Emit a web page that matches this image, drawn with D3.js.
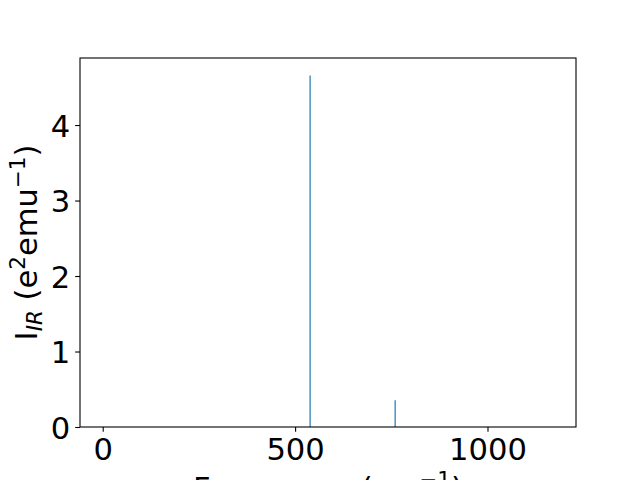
<!DOCTYPE html>
<html>
<head>
<meta charset="utf-8">
<script src="https://cdn.jsdelivr.net/npm/d3@7"></script>
<style>
  body { margin: 0; background: #fff; }
  svg { display: block; font-family: "DejaVu Sans", sans-serif; }
</style>
</head>
<body>
<div id="graphArea"></div>
<script>
// spectrum lines: frequency (cm^-1) and IR intensity
var frequencies = [539, 760]
var intensities = [4.655, 0.354]

// axis ticks
var xTicks = [0, 500, 1000]
var yTicks = [0, 1, 2, 3, 4]

// axis limits (matplotlib autoscale with 5% margin)
var xDomain = [-59, 1230]
var yDomain = [0, 4.888]

var width = 640
var height = 480
var margin = {top: 58, right: 64, bottom: 53, left: 80}
var fontSize = 30.6
var smallSize = 21.4

var svg = d3.select("#graphArea")
	.append("svg")
	.attr("width", width)
	.attr("height", height)

var x = d3.scaleLinear()
	.domain(xDomain)
	.range([margin.left, width - margin.right])

var y = d3.scaleLinear()
	.domain(yDomain)
	.range([height - margin.bottom, margin.top])

var dat = frequencies.map(function(f, i) {
	return {freq: f, value: intensities[i]}
})

// the spectrum lines
svg.selectAll("line.peak")
	.data(dat)
	.enter()
	.append("line")
	.classed("peak", true)
	.attr("x1", function(d) { return x(d.freq) })
	.attr("x2", function(d) { return x(d.freq) })
	.attr("y1", y(0))
	.attr("y2", function(d) { return y(d.value) })
	.attr("stroke", "#1f77b4")
	.attr("stroke-width", 1.2)

// axes
var xAxis = svg.append("g")
	.attr("transform", "translate(0," + (height - margin.bottom) + ")")
	.call(d3.axisBottom(x).tickValues(xTicks).tickSize(4.86).tickPadding(4.86).tickFormat(d3.format("d")))
var yAxis = svg.append("g")
	.attr("transform", "translate(" + margin.left + ",0)")
	.call(d3.axisLeft(y).tickValues(yTicks).tickSize(4.86).tickPadding(4.86).tickFormat(d3.format("d")))

;[xAxis, yAxis].forEach(function(g) {
	g.select(".domain").remove()
	g.selectAll("line").attr("stroke", "#000").attr("stroke-width", 1.1)
	g.selectAll("text")
		.attr("fill", "#000")
		.style("font-family", '"DejaVu Sans", sans-serif')
		.style("font-size", fontSize + "px")
})
xAxis.selectAll("text").attr("dy", "0.76em")
yAxis.selectAll("text").attr("dy", "0.36em")

// frame
svg.append("rect")
	.attr("x", margin.left)
	.attr("y", margin.top)
	.attr("width", width - margin.left - margin.right)
	.attr("height", height - margin.top - margin.bottom)
	.attr("fill", "none")
	.attr("stroke", "#000")
	.attr("stroke-width", 1.1)

// x label (partly below the bottom edge, as in the original figure)
var xl = svg.append("text")
	.attr("x", (margin.left + width - margin.right) / 2)
	.attr("y", 499)
	.attr("text-anchor", "middle")
	.style("font-size", fontSize + "px")
xl.append("tspan").text("Frequency (cm")
xl.append("tspan").attr("dy", -12).style("font-size", smallSize + "px").text("\u22121")
xl.append("tspan").attr("dy", 12).text(")")

// y label
var yl = svg.append("text")
	.attr("transform", "translate(37," + ((margin.top + height - margin.bottom) / 2) + ") rotate(-90)")
	.attr("text-anchor", "middle")
	.style("font-size", fontSize + "px")
yl.append("tspan").text("I")
yl.append("tspan").attr("dy", 5).style("font-size", smallSize + "px").style("font-style", "italic").text("IR")
yl.append("tspan").attr("dy", -5).text(" (e")
yl.append("tspan").attr("dy", -12).style("font-size", smallSize + "px").text("2")
yl.append("tspan").attr("dy", 12).text("emu")
yl.append("tspan").attr("dy", -12).style("font-size", smallSize + "px").text("\u22121")
yl.append("tspan").attr("dy", 12).text(")")
</script>
</body>
</html>
